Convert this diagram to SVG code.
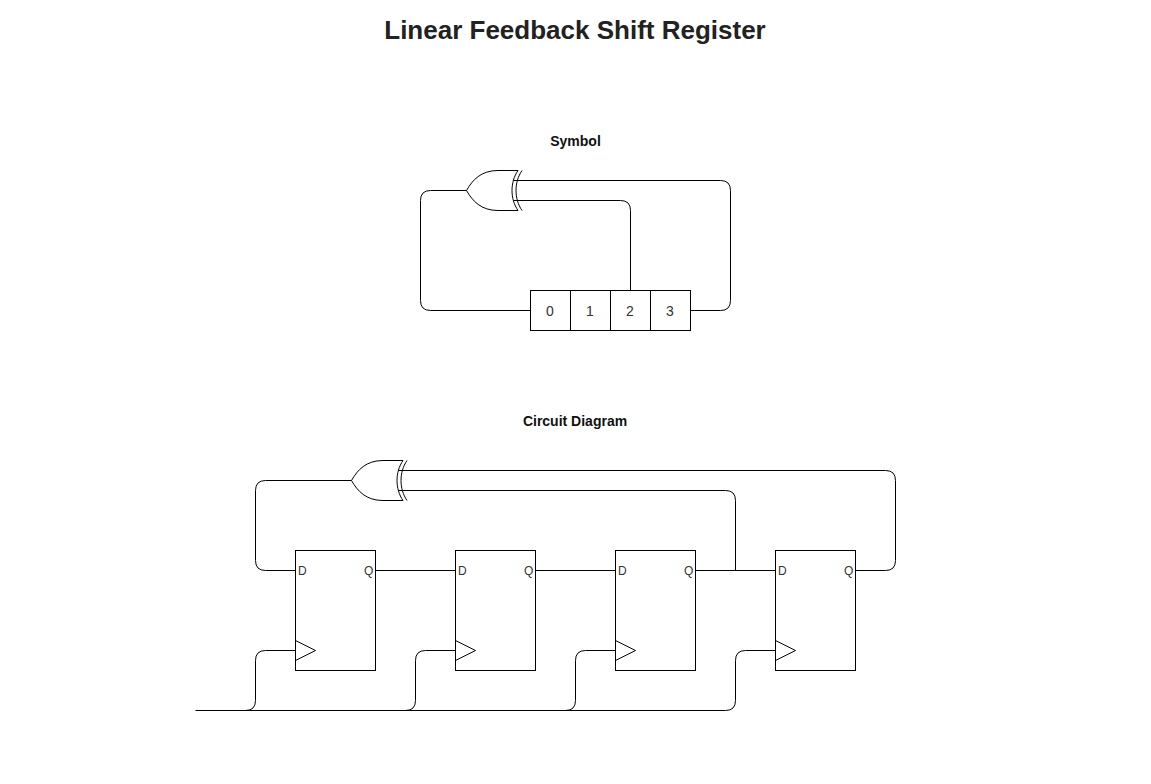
<svg xmlns="http://www.w3.org/2000/svg" width="1151" height="784" viewBox="0 0 1151 784">
<style>
.s{fill:none;stroke:#000;stroke-width:1}
.b{fill:#fff;stroke:#000;stroke-width:1}
text{font-family:"Liberation Sans",Arial,sans-serif;fill:#333}
.h{font-weight:bold;font-size:14px;text-anchor:middle;fill:#111}
.c{font-size:14px;text-anchor:middle}
.t{font-size:12px}
</style>
<defs>
<g id="xor">
<path class="b" d="M0.500 0.500C6.500 -10 15 -19.500 32 -19.500H52C44 -8 44 9 52 20.500H32C15 20.500 6.500 11 0.500 0.500Z" stroke-linejoin="round"/>
<path class="s" d="M56 -19.500C48 -8 48 9 56 20.500"/>
</g>
<g id="ff">
<rect class="b" x="0.500" y="0.500" width="80" height="120"/>
<path class="s" d="M0.500 90.500L20.500 100.500L0.500 110.500"/>
</g>
</defs>
<text x="575" y="38.500" text-anchor="middle" style="font-size:26px;font-weight:bold;fill:#222">Linear Feedback Shift Register</text>
<text class="h" x="575.500" y="146">Symbol</text>
<text class="h" x="575" y="426">Circuit Diagram</text>
<g id="connectors">
<path class="s" d="M466.500 190.500H430.500Q420.500 190.500 420.500 200.500V300.500Q420.500 310.500 430.500 310.500H530.500"/>
<path class="s" d="M513.500 180.500H720.500Q730.500 180.500 730.500 190.500V300.500Q730.500 310.500 720.500 310.500H690.500"/>
<path class="s" d="M513.500 200.500H620.500Q630.500 200.500 630.500 210.500V290.500"/>
<path class="s" d="M351.500 480.500H265.500Q255.500 480.500 255.500 490.500V560.500Q255.500 570.500 265.500 570.500H295.500"/>
<path class="s" d="M398.500 470.500H885.500Q895.500 470.500 895.500 480.500V560.500Q895.500 570.500 885.500 570.500H855.500"/>
<path class="s" d="M398.500 490.500H725.500Q735.500 490.500 735.500 500.500V570.500"/>
<path class="s" d="M375.500 570.500H455.500M535.500 570.500H615.500M695.500 570.500H775.500"/>
<path class="s" d="M195.500 710.500H725.500Q735.500 710.500 735.500 700.500V660.500Q735.500 650.500 745.500 650.500H775.500"/>
<path class="s" d="M245.500 710.500Q255.500 710.500 255.500 700.500V660.500Q255.500 650.500 265.500 650.500H295.500"/>
<path class="s" d="M405.500 710.500Q415.500 710.500 415.500 700.500V660.500Q415.500 650.500 425.500 650.500H455.500"/>
<path class="s" d="M565.500 710.500Q575.500 710.500 575.500 700.500V660.500Q575.500 650.500 585.500 650.500H615.500"/>
</g>
<g id="xor-symbol"><use href="#xor" x="466" y="190"/></g>
<g id="register">
<rect class="b" x="530.500" y="290.500" width="40" height="40"/>
<rect class="b" x="570.500" y="290.500" width="40" height="40"/>
<rect class="b" x="610.500" y="290.500" width="40" height="40"/>
<rect class="b" x="650.500" y="290.500" width="40" height="40"/>
<text class="c" x="550" y="316">0</text>
<text class="c" x="590" y="316">1</text>
<text class="c" x="630" y="316">2</text>
<text class="c" x="670" y="316">3</text>
</g>
<g id="xor-circuit"><use href="#xor" x="351" y="480"/></g>
<g id="ff0"><use href="#ff" x="295" y="550"/><text class="t" x="298" y="575">D</text><text class="t" x="364" y="575">Q</text></g>
<g id="ff1"><use href="#ff" x="455" y="550"/><text class="t" x="458" y="575">D</text><text class="t" x="524" y="575">Q</text></g>
<g id="ff2"><use href="#ff" x="615" y="550"/><text class="t" x="618" y="575">D</text><text class="t" x="684" y="575">Q</text></g>
<g id="ff3"><use href="#ff" x="775" y="550"/><text class="t" x="778" y="575">D</text><text class="t" x="844" y="575">Q</text></g>
</svg>
